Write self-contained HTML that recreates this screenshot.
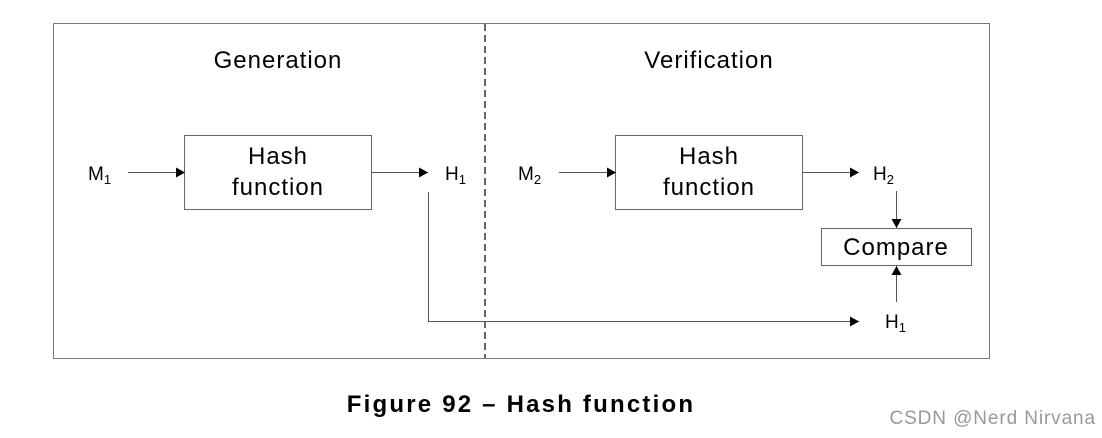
<!DOCTYPE html>
<html><head><style>
body{margin:0;background:#fff;}
svg{display:block;font-family:"Liberation Sans",Arial,sans-serif;}
</style></head><body>
<svg width="1102" height="438" viewBox="0 0 1102 438">
<defs><marker id="a" markerWidth="10" markerHeight="10" refX="9" refY="5" orient="auto" markerUnits="userSpaceOnUse"><path d="M0,0 L9,5 L0,10 Z" fill="#000"/></marker></defs>
<rect x="53.5" y="23.5" width="936" height="335" fill="none" stroke="#777" stroke-width="1"/>
<line x1="485" y1="24" x2="485" y2="358" stroke="#333" stroke-width="1.5" stroke-dasharray="7,4"/>
<g font-size="24" letter-spacing="1" text-anchor="middle" fill="#000">
<text x="278" y="68">Generation</text>
<text x="709" y="68">Verification</text>
</g>
<rect x="184.5" y="135.5" width="187" height="74" fill="none" stroke="#666"/>
<rect x="615.5" y="135.5" width="187" height="74" fill="none" stroke="#666"/>
<rect x="821.5" y="228.5" width="150" height="37" fill="none" stroke="#666"/>
<g font-size="24" letter-spacing="1" text-anchor="middle">
<text x="278" y="164">Hash</text><text x="278" y="195">function</text>
<text x="709" y="164">Hash</text><text x="709" y="195">function</text>
<text x="896" y="255">Compare</text>
</g>
<g font-size="19">
<text x="88" y="180">M<tspan font-size="13" dy="4">1</tspan></text>
<text x="445" y="180">H<tspan font-size="13" dy="4">1</tspan></text>
<text x="518" y="180">M<tspan font-size="13" dy="4">2</tspan></text>
<text x="873" y="180">H<tspan font-size="13" dy="4">2</tspan></text>
<text x="885" y="328">H<tspan font-size="13" dy="4">1</tspan></text>
</g>
<g stroke="#555" stroke-width="1" fill="none">
<line x1="128" y1="172.5" x2="185" y2="172.5" marker-end="url(#a)"/>
<line x1="372" y1="172.5" x2="428" y2="172.5" marker-end="url(#a)"/>
<line x1="559" y1="172.5" x2="616" y2="172.5" marker-end="url(#a)"/>
<line x1="803" y1="172.5" x2="859" y2="172.5" marker-end="url(#a)"/>
<polyline points="428.5,192 428.5,321.5 859,321.5" marker-end="url(#a)"/>
<line x1="896.5" y1="191" x2="896.5" y2="228" marker-end="url(#a)"/>
<line x1="896.5" y1="302" x2="896.5" y2="266" marker-end="url(#a)"/>
</g>
<text x="521" y="412" font-size="24" letter-spacing="2.2" font-weight="bold" text-anchor="middle">Figure 92 – Hash function</text>
<text x="1096" y="424" font-size="19" letter-spacing="0.9" fill="#999" text-anchor="end">CSDN @Nerd Nirvana</text>
</svg>
</body></html>
